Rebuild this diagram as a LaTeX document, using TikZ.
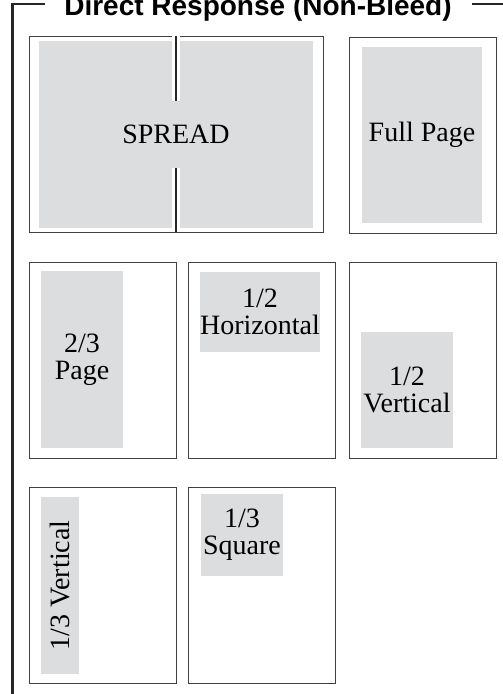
\documentclass[tikz,border=0pt]{standalone}
\usepackage{fontspec}
\setmainfont{Liberation Serif}
\newfontfamily\headfont{Liberation Sans}
\definecolor{adgray}{RGB}{220,221,223}
\tikzset{my page/.style={draw=black!75, line width=0.9pt, fill=white, inner sep=0pt, minimum width=147pt, minimum height=196pt},
my ad/.style={fill=adgray, inner sep=0pt, align=center, font=\fontsize{28}{27}\selectfont},
my gutter/.style={line width=1.8pt, black!85, preaction={draw=white, line width=8pt}},
my frame/.style={line width=2.6pt, black!85},}

\begin{document}
\begin{tikzpicture}[x=1pt,y=-1pt]
\useasboundingbox (0,0) rectangle (503,694);
% heading and frame
\node [anchor=base, inner sep=0pt, font=\headfont\bfseries\fontsize{28}{28}\selectfont] (title) at (258.000000, 15.000000) {Direct Response (Non-Bleed)};
\draw [my frame] (45,4) -| (12.5,700);
\draw [my frame] (472,4) -- (510,4);
% pages
\node [my page, minimum width=294pt] (spread) at (176.000000, 134.000000) {};
\node [my page] (full) at (422.500000, 135.000000) {};
\node [my page] (twothird) at (102.500000, 360.000000) {};
\node [my page] (halfh) at (262.000000, 360.000000) {};
\node [my page] (halfv) at (422.500000, 360.000000) {};
\node [my page] (thirdv) at (102.500000, 585.000000) {};
\node [my page] (thirdsq) at (262.000000, 585.000000) {};
% ads
\node [my ad, minimum width=274pt, minimum height=187pt] (spreadad) at (176.000000, 134.500000) {SPREAD};
\draw [my gutter] (spread.north) -- ++(0,65);
\draw [my gutter] (spread.south) -- ++(0,-64);
\node [my ad, minimum width=120pt, minimum height=176pt] (fullad) at (422.000000, 135.000000) {Full Page};
\node [my ad, minimum width=82pt, minimum height=177pt] (twothirdad) at (82.000000, 359.500000) {2/3\\Page};
\node [my ad, minimum width=120pt, minimum height=80pt] (halfhad) at (260.000000, 312.000000) {1/2\\Horizontal};
\node [my ad, minimum width=92pt, minimum height=116pt] (halfvad) at (407.000000, 390.000000) {1/2\\Vertical};
\node [my ad, rotate=90, minimum width=177pt, minimum height=38pt] (thirdvad) at (60.000000, 585.500000) {1/3 Vertical};
\node [my ad, minimum width=82pt, minimum height=82pt] (thirdsqad) at (242.000000, 535.000000) {1/3\\Square};
\end{tikzpicture}
\end{document}
